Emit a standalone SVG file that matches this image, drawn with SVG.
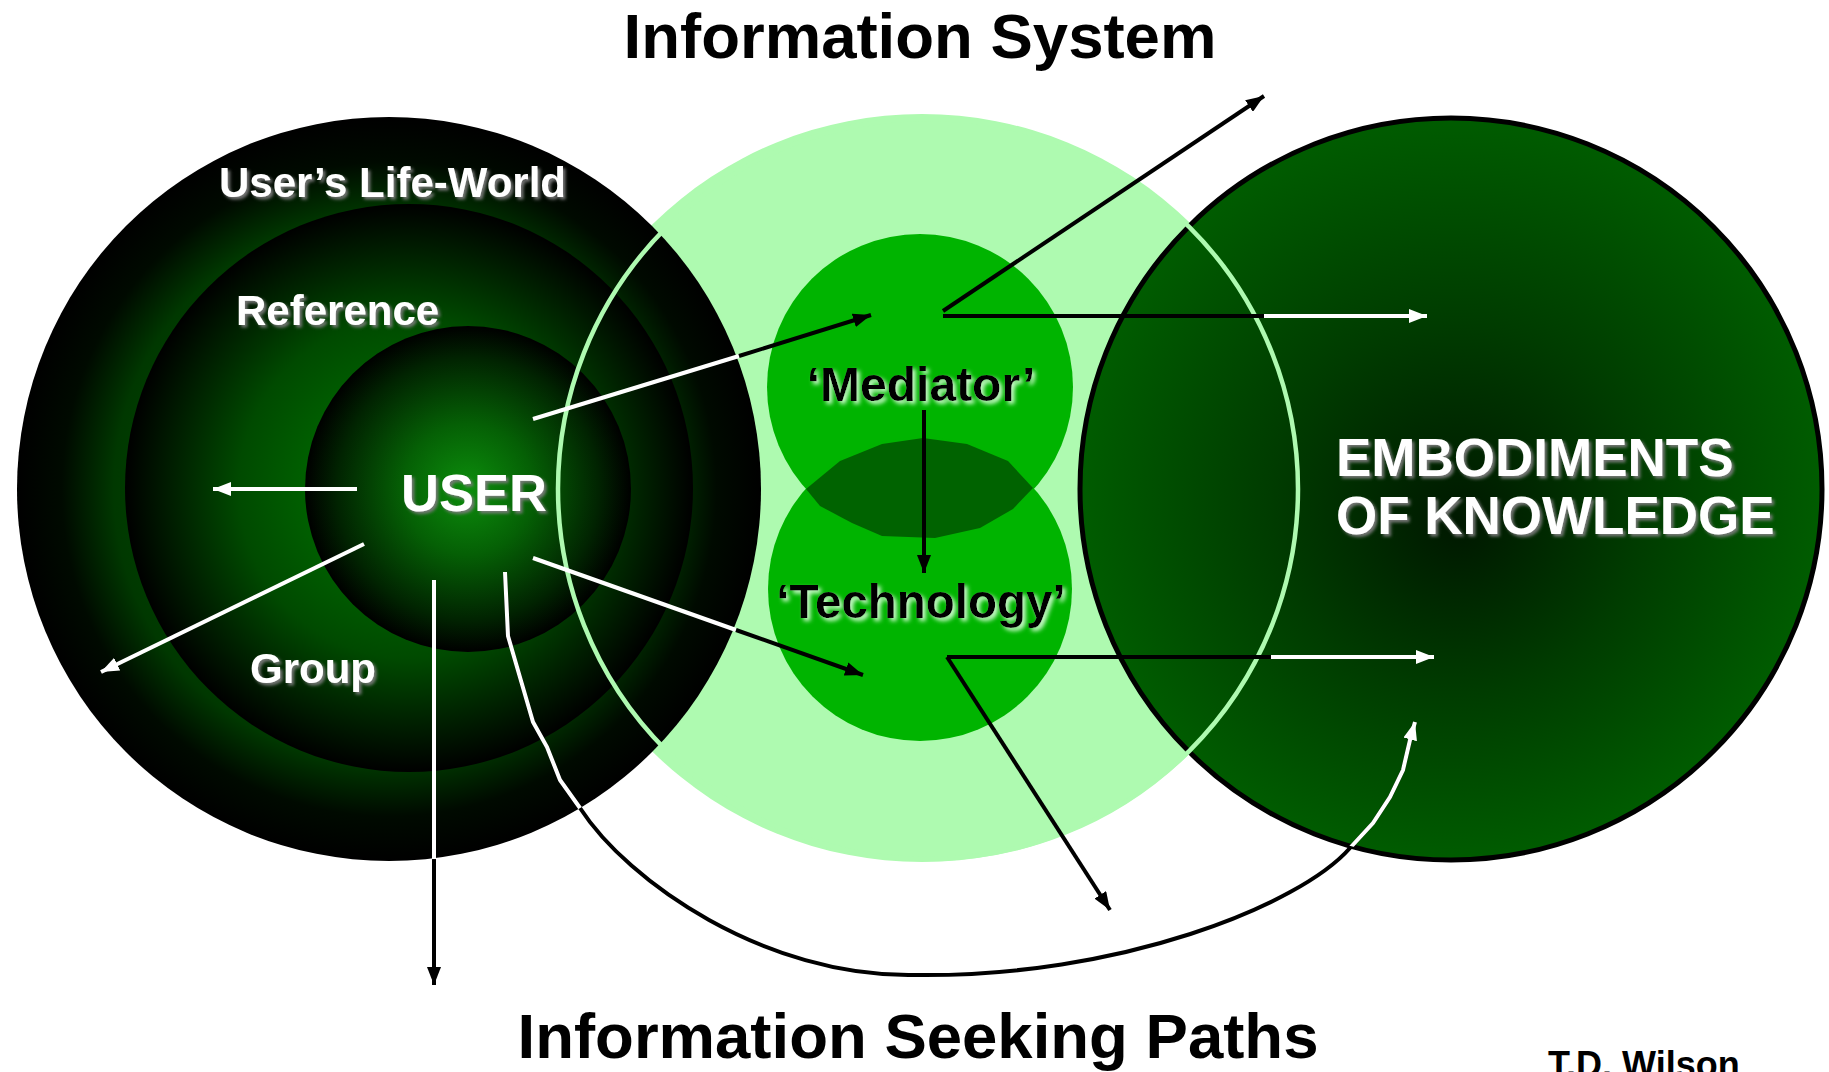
<svg xmlns="http://www.w3.org/2000/svg" width="1829" height="1072" viewBox="0 0 1829 1072">
  <defs>
    <style>
      .lbl { font-family: "Liberation Sans", Arial, sans-serif; font-weight: bold; }
      .white { fill: #ffffff; filter: url(#shadowW); }
      .dark { fill: #000000; filter: url(#glowG); }
      .title { fill: #000000; }
      .lnW { stroke: #ffffff; stroke-width: 4; fill: none; }
      .lnB { stroke: #000000; stroke-width: 4; fill: none; }
    </style>
    <filter id="shadowW" x="-10%" y="-20%" width="120%" height="150%">
      <feDropShadow dx="2.5" dy="2.5" stdDeviation="1.5" flood-color="#7a7a7a" flood-opacity="0.95"/>
    </filter>
    <filter id="glowG" x="-10%" y="-20%" width="120%" height="150%">
      <feDropShadow dx="3" dy="3" stdDeviation="2" flood-color="#d8ffd8" flood-opacity="0.95"/>
    </filter>
    <radialGradient id="gOuter" gradientUnits="userSpaceOnUse" cx="389" cy="489" r="372">
      <stop offset="0" stop-color="#007000"/>
      <stop offset="0.74" stop-color="#003800"/>
      <stop offset="0.88" stop-color="#000a00"/>
      <stop offset="1" stop-color="#000000"/>
    </radialGradient>
    <radialGradient id="gRef" gradientUnits="userSpaceOnUse" cx="409" cy="488" r="284">
      <stop offset="0" stop-color="#008000"/>
      <stop offset="0.6" stop-color="#004a00"/>
      <stop offset="0.85" stop-color="#001c00"/>
      <stop offset="1" stop-color="#000000"/>
    </radialGradient>
    <radialGradient id="gUser" gradientUnits="userSpaceOnUse" cx="468" cy="489" r="163">
      <stop offset="0" stop-color="#0c8e0c"/>
      <stop offset="0.4" stop-color="#056005"/>
      <stop offset="0.8" stop-color="#012401"/>
      <stop offset="1" stop-color="#000000"/>
    </radialGradient>
    <radialGradient id="gKnow" gradientUnits="userSpaceOnUse" cx="1451" cy="489" r="371" fx="1460" fy="525">
      <stop offset="0" stop-color="#001800"/>
      <stop offset="0.5" stop-color="#003c00"/>
      <stop offset="1" stop-color="#005c00"/>
    </radialGradient>
    <clipPath id="darkAreas">
      <circle cx="389" cy="489" r="372"/>
      <circle cx="1451" cy="489" r="371"/>
    </clipPath>
    <marker id="arB" markerUnits="userSpaceOnUse" markerWidth="18" markerHeight="14" refX="18" refY="7" orient="auto">
      <path d="M0,0 L18,7 L0,14 z" fill="#000000"/>
    </marker>
    <marker id="arW" markerUnits="userSpaceOnUse" markerWidth="18" markerHeight="14" refX="18" refY="7" orient="auto">
      <path d="M0,0 L18,7 L0,14 z" fill="#ffffff"/>
    </marker>
    <path id="pathCurve" d="M505,572 L508,636 L533,722 L547,747 L560,780 L580,808 C628,882 765,977 913,975 C1120,978 1300,905 1350,848 L1373,823 L1390,797 L1403,770 L1410,740 L1415,722"/>
  </defs>

  <rect width="1829" height="1072" fill="#ffffff"/>

  <!-- Information System: pale field behind everything -->
  <g id="information-system">
    <ellipse cx="922" cy="488" rx="380" ry="374" fill="#aefab0"/>
  </g>

  <!-- User's life-world, reference group and user -->
  <g id="life-world">
    <circle cx="389" cy="489" r="372" fill="url(#gOuter)"/>
  </g>
  <g id="reference-group">
    <circle cx="409" cy="488" r="284" fill="url(#gRef)"/>
  </g>
  <g id="user">
    <circle cx="468" cy="489" r="163" fill="url(#gUser)"/>
  </g>

  <!-- Embodiments of knowledge -->
  <g id="embodiments">
    <circle cx="1451" cy="489" r="371" fill="url(#gKnow)" stroke="#000000" stroke-width="5"/>
  </g>

  <!-- outline of the information system drawn over the dark circles -->
  <g id="information-system-outline">
    <circle cx="928" cy="489" r="370" fill="none" stroke="#aefab0" stroke-width="4.5"/>
  </g>

  <!-- Mediator and Technology -->
  <g id="mediator">
    <circle cx="920" cy="387" r="153" fill="#00b400"/>
  </g>
  <g id="technology">
    <circle cx="920" cy="589" r="152" fill="#00b400"/>
  </g>
  <g id="mediator-technology-overlap">
    <polygon points="806,489 840,461 882,444 923,438 967,444 1008,461 1033,488 1013,509 980,528 935,538 882,536 852,523 820,506" fill="#006300"/>
  </g>

  <!-- Information seeking paths -->
  <g id="connectors">
    <!-- user to reference / group -->
    <line class="lnW" x1="357" y1="489" x2="213" y2="489" marker-end="url(#arW)"/>
    <line class="lnW" x1="364" y1="544" x2="101" y2="672" marker-end="url(#arW)"/>
    <!-- user straight down out of the life-world -->
    <line class="lnW" x1="434" y1="580" x2="434" y2="859"/>
    <line class="lnB" x1="434" y1="859" x2="434" y2="985" marker-end="url(#arB)"/>
    <!-- user to mediator -->
    <line class="lnW" x1="533" y1="419" x2="739" y2="356"/>
    <line class="lnB" x1="739" y1="356" x2="871" y2="315" marker-end="url(#arB)"/>
    <!-- user to technology -->
    <line class="lnW" x1="533" y1="558" x2="736" y2="630"/>
    <line class="lnB" x1="736" y1="630" x2="863" y2="675" marker-end="url(#arB)"/>
    <!-- mediator to technology -->
    <line class="lnB" x1="924" y1="410" x2="924" y2="573" marker-end="url(#arB)"/>
    <!-- mediator outwards -->
    <line class="lnB" x1="943" y1="311" x2="1264" y2="96" marker-end="url(#arB)"/>
    <line class="lnB" x1="943" y1="316" x2="1264" y2="316"/>
    <line class="lnW" x1="1264" y1="316" x2="1427" y2="316" marker-end="url(#arW)"/>
    <!-- technology outwards -->
    <line class="lnB" x1="947" y1="657" x2="1271" y2="657"/>
    <line class="lnW" x1="1271" y1="657" x2="1434" y2="657" marker-end="url(#arW)"/>
    <line class="lnB" x1="947" y1="657" x2="1110" y2="910" marker-end="url(#arB)"/>
    <!-- direct path from user to embodiments of knowledge -->
    <use href="#pathCurve" class="lnB"/>
    <use href="#pathCurve" class="lnW" clip-path="url(#darkAreas)" marker-end="url(#arW)"/>
  </g>

  <!-- labels -->
  <g id="labels" class="lbl">
    <text class="title" x="920" y="58" font-size="63.5" text-anchor="middle">Information System</text>
    <text class="title" x="918" y="1058" font-size="63.5" text-anchor="middle">Information Seeking Paths</text>
    <text class="title" x="1548" y="1077" font-size="36">T.D. Wilson</text>
    <text class="white" x="219" y="197" font-size="42">User’s Life-World</text>
    <text class="white" x="236" y="325" font-size="42">Reference</text>
    <text class="white" x="250" y="683" font-size="42">Group</text>
    <text class="white" x="401" y="511" font-size="52.5">USER</text>
    <text class="dark" x="921" y="401" font-size="48" text-anchor="middle">‘Mediator’</text>
    <text class="dark" x="921" y="618" font-size="47.5" text-anchor="middle">‘Technology’</text>
    <text class="white" x="1336" y="476" font-size="53">EMBODIMENTS</text>
    <text class="white" x="1336" y="534" font-size="53">OF KNOWLEDGE</text>
  </g>
</svg>
